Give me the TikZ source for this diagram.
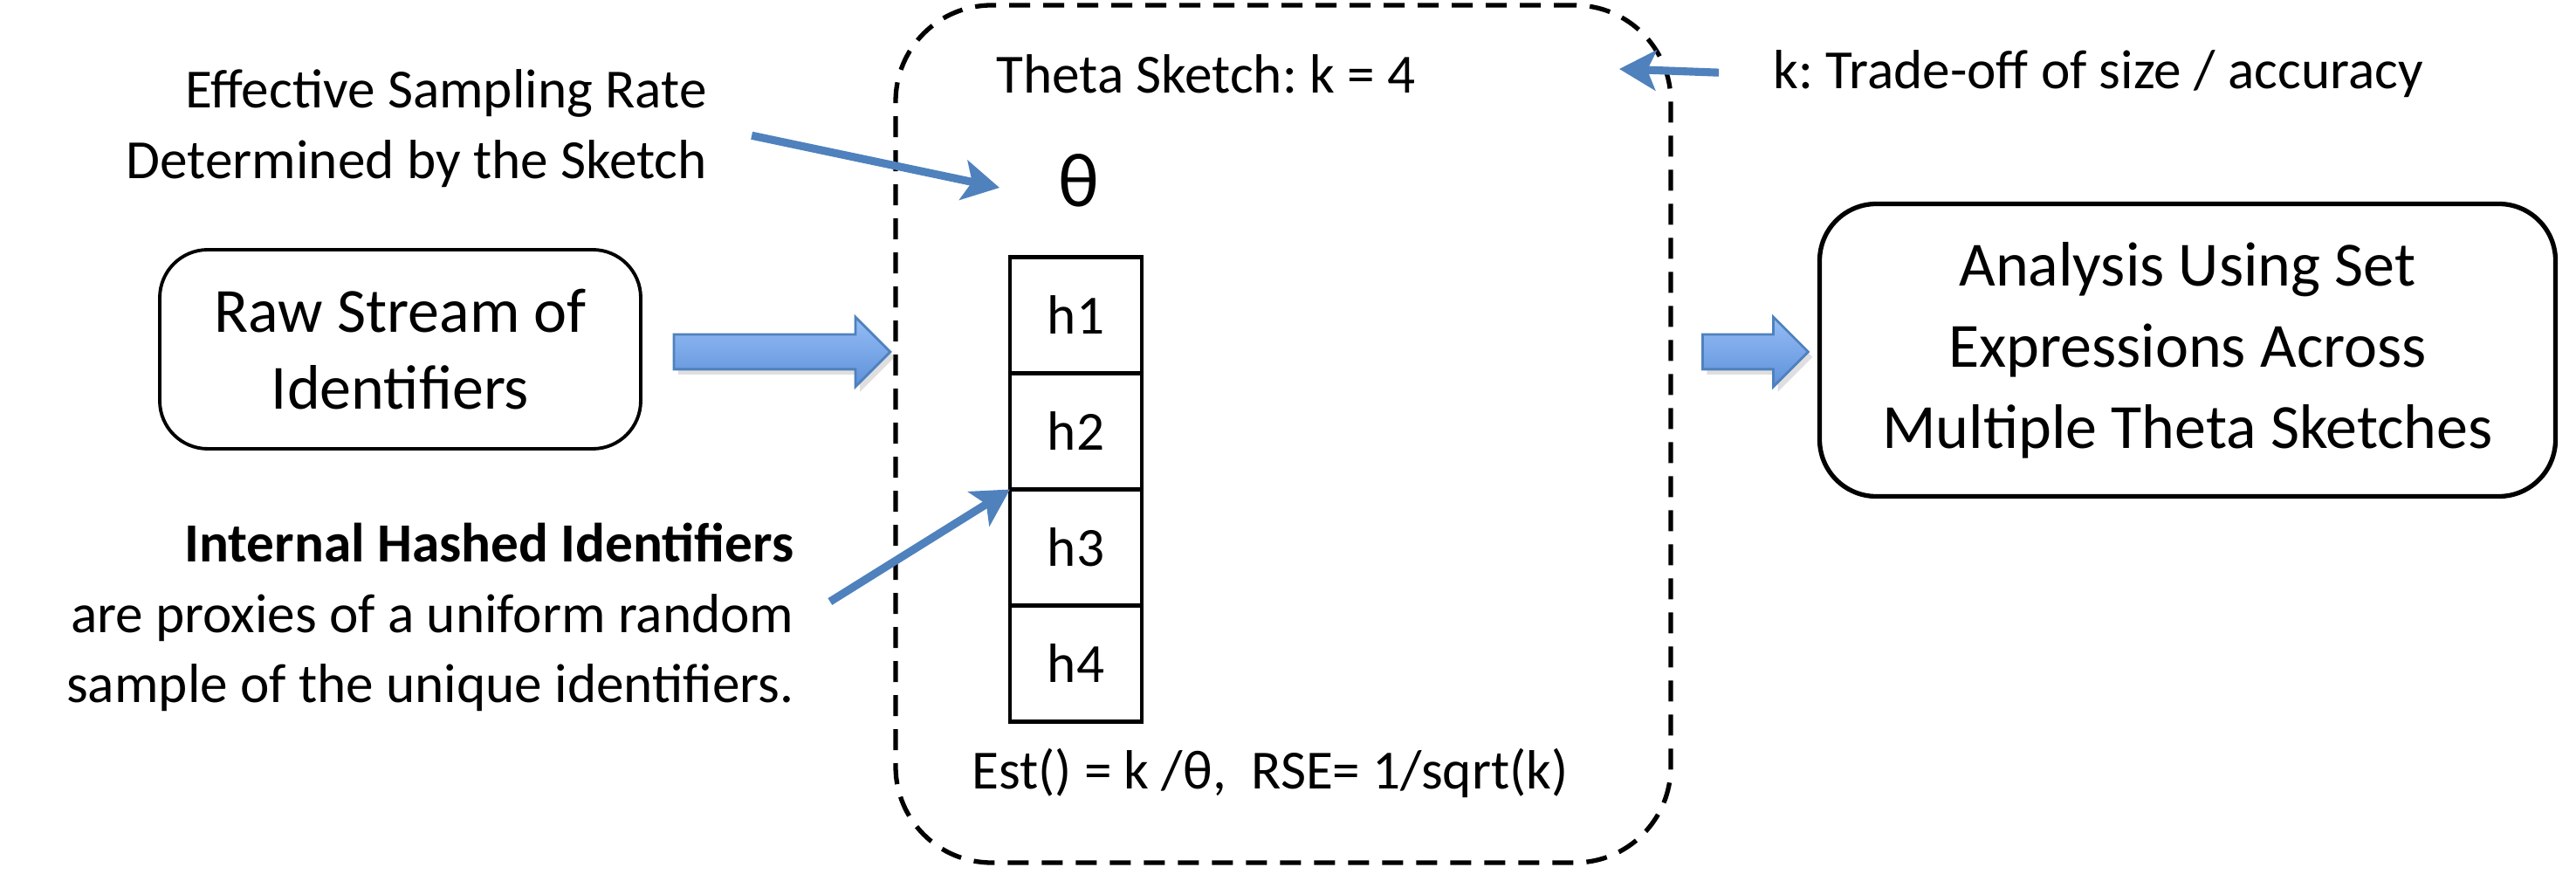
\documentclass[tikz,border=0pt]{standalone}
\usepackage{fontspec}
\setmainfont{Carlito}
\usepackage{tikz}
\usetikzlibrary{positioning, arrows.meta, shapes.arrows, shadows}
\definecolor{arrowblue}{HTML}{4F81BD}
\definecolor{lightblue}{HTML}{95BDF5}
\definecolor{midblue}{HTML}{5E91DA}
\newcommand{\bigtext}{\fontsize{20.5}{25}\selectfont}
\newcommand{\smalltext}{\fontsize{18}{23}\selectfont}
\frenchspacing
\tikzset{
  roundbox/.style={rectangle, draw, line width=1.1pt, rounded corners=0.55cm, align=center, font=\bigtext},
  cell/.style={rectangle, draw, line width=1.4pt, minimum width=1.51cm, minimum height=1.33cm, outer sep=0pt, font=\smalltext},
  fatarrow/.style={single arrow, draw=arrowblue, line width=0.8pt, top color=lightblue, bottom color=midblue,
    single arrow head extend=0.2cm, single arrow tip angle=90, inner xsep=0pt, inner ysep=0.185cm,
    drop shadow={opacity=0.25, shadow xshift=0.05cm, shadow yshift=-0.06cm}},
  notearrow/.style={draw=arrowblue, line width=2.6pt, -{Stealth[length=0.42cm, width=0.46cm, inset=0.1cm]}},
}

\begin{document}
\begin{tikzpicture}
    \useasboundingbox (0,0) rectangle (29.51,-10.17);
    % the sketch itself
    \node (sketch) at (14.70,-4.97) [rectangle, draw, dashed, dash pattern=on 0.24cm off 0.15cm, line width=1.5pt, rounded corners=1.1cm, minimum width=8.88cm, minimum height=9.82cm] {};
    \node (title) at (11.29,-0.85) [anchor=west, font=\smalltext] {Theta Sketch: k = 4};
    \node (theta) at (12.36,-2.07) [font=\fontsize{25}{30}\selectfont] {θ};
    \node (h1) at (12.325,-3.61) [cell] {h1};
    \node (h2) [cell, below=0pt of h1] {h2};
    \node (h3) [cell, below=0pt of h2] {h3};
    \node (h4) [cell, below=0pt of h3] {h4};
    \node (est) at (11.01,-8.85) [anchor=west, font=\smalltext] {Est() = k /θ,\ \ RSE= 1/sqrt(k)};
    % input and output
    \node (raw) at (4.585,-4.00) [roundbox, minimum width=5.51cm, minimum height=2.28cm] {Raw Stream of\\Identifiers};
    \node (analysis) at (25.06,-4.01) [roundbox, line width=1.5pt, rounded corners=0.65cm, minimum width=8.43cm, minimum height=3.35cm, font=\fontsize{20.5}{26.5}\selectfont] {Analysis Using Set\\Expressions Across\\Multiple Theta Sketches};
    \node (larrow) at (8.86,-4.03) [fatarrow, minimum height=2.48cm] {};
    \node (rarrow) at (20.01,-4.03) [fatarrow, minimum height=1.21cm] {};
    % notes
    \node (ratenote) at (8.22,-1.47) [anchor=east, align=right, font=\smalltext] {Effective Sampling Rate\\Determined by the Sketch};
    \node (hashnote) at (9.22,-7.07) [anchor=east, align=right, font=\smalltext] {\textbf{Internal Hashed Identifiers}\\are proxies of a uniform random\\sample of the unique identifiers.};
    \node (knote) at (20.19,-0.85) [anchor=west, font=\smalltext] {k: Trade-off of size / accuracy};
    \coordinate (ratetip) at (11.45,-2.15);
    \coordinate (ktip) at (18.55,-0.79);
    \draw[notearrow, shorten <=0.4cm] (ratenote.east) -- (ratetip);
    \draw[notearrow, shorten <=0.34cm] (hashnote.east) -- (h3.north west);
    \draw[notearrow, shorten <=0.5cm] (knote.west) -- (ktip);
\end{tikzpicture}
\end{document}
